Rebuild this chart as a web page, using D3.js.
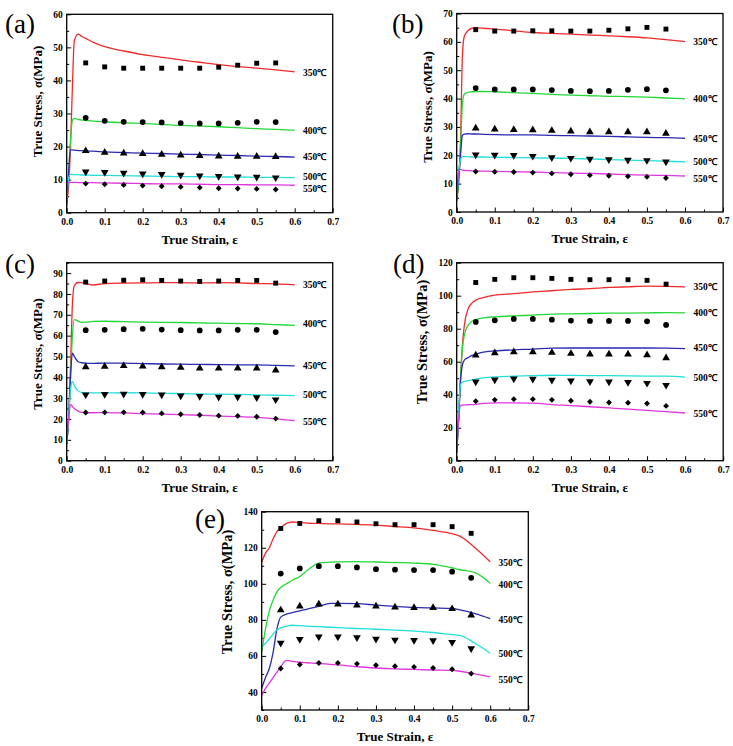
<!DOCTYPE html>
<html><head><meta charset="utf-8">
<script src="https://cdn.jsdelivr.net/npm/d3@7"></script>
<style>
body{margin:0;background:#fff;}
svg{display:block;}
text{font-family:"Liberation Serif","Times New Roman",serif;}
</style>
</head><body>
<svg id="chart" width="733" height="746"></svg>
<script>
// ---------------- DATA ----------------
const temps = ["350℃", "400℃", "450℃", "500℃", "550℃"];
const panelNames = ["(a)", "(b)", "(c)", "(d)", "(e)"];
const xTicks = [0, 0.1, 0.2, 0.3, 0.4, 0.5, 0.6, 0.7];
const expStrain = [0.05, 0.1, 0.15, 0.2, 0.25, 0.3, 0.35, 0.4, 0.45, 0.5, 0.55];
const gridABCD = [0, 0.005, 0.01, 0.015, 0.02, 0.03, 0.04, 0.05, 0.07, 0.1, 0.15, 0.2, 0.25, 0.3, 0.35, 0.4, 0.45, 0.5, 0.55, 0.6];
const gridE = [0, 0.01, 0.02, 0.03, 0.04, 0.05, 0.065, 0.08, 0.1, 0.12, 0.15, 0.18, 0.2, 0.25, 0.3, 0.35, 0.4, 0.45, 0.5, 0.52, 0.56, 0.6];

// (a)
const yTicksA = [0, 10, 20, 30, 40, 50, 60];
const curvesA = [
  [3, 8, 20, 38, 52, 54, 53.3, 52.7, 51.5, 50.2, 48.9, 47.8, 47.0, 46.2, 45.5, 44.8, 44.2, 43.7, 43.2, 42.6],
  [3, 12, 22, 28, 28.5, 28.2, 28.0, 27.9, 27.7, 27.5, 27.2, 27.0, 26.7, 26.4, 26.2, 26.0, 25.7, 25.4, 25.2, 24.9],
  [2, 12, 19, 19, 18.9, 18.8, 18.8, 18.7, 18.6, 18.4, 18.2, 18.0, 17.9, 17.7, 17.6, 17.4, 17.3, 17.1, 17.0, 16.8],
  [3, 10.5, 11.6, 11.6, 11.5, 11.5, 11.4, 11.4, 11.3, 11.3, 11.2, 11.1, 11.0, 10.9, 10.9, 10.8, 10.8, 10.7, 10.7, 10.6],
  [5, 9.2, 9.2, 9.2, 9.2, 9.1, 9.1, 9.1, 9.1, 9.0, 8.9, 8.8, 8.7, 8.7, 8.6, 8.5, 8.5, 8.4, 8.4, 8.3]
];
const pointsA = [
  [45.3, 44.1, 43.7, 43.7, 43.7, 43.7, 43.7, 44.0, 44.6, 45.2, 45.3],
  [28.7, 27.8, 27.5, 27.4, 27.3, 27.1, 27.0, 27.0, 27.2, 27.5, 27.4],
  [18.7, 18.2, 18.0, 17.8, 17.6, 17.4, 17.2, 17.1, 17.0, 17.0, 16.9],
  [12.4, 12.2, 12.0, 11.8, 11.6, 11.4, 11.2, 11.0, 10.9, 10.8, 10.6],
  [8.8, 8.6, 8.4, 8.2, 8.0, 7.8, 7.6, 7.4, 7.3, 7.2, 7.0]
];
const labelYA = [42.4, 24.8, 16.9, 10.8, 7.2];

// (b)
const yTicksB = [0, 10, 20, 30, 40, 50, 60, 70];
const curvesB = [
  [5, 10, 25, 55, 62, 64, 64.8, 64.9, 64.8, 64.5, 63.9, 63.3, 63.0, 62.7, 62.4, 62.1, 61.8, 61.4, 60.8, 60.1],
  [4, 10, 22, 38, 41.5, 42.2, 42.4, 42.5, 42.5, 42.4, 42.1, 41.8, 41.5, 41.2, 41.0, 40.8, 40.7, 40.5, 40.2, 39.9],
  [4, 12, 20, 27, 27.5, 27.6, 27.5, 27.5, 27.4, 27.3, 27.2, 27.2, 27.0, 26.9, 26.8, 26.7, 26.5, 26.3, 26.2, 26.0],
  [4, 14, 18.5, 19.5, 19.5, 19.5, 19.4, 19.4, 19.4, 19.3, 19.2, 19.1, 19.0, 18.9, 18.7, 18.5, 18.3, 18.1, 17.9, 17.7],
  [5, 14, 15, 14.8, 14.7, 14.6, 14.5, 14.5, 14.4, 14.3, 14.2, 14.1, 13.9, 13.7, 13.6, 13.4, 13.2, 13.0, 12.9, 12.7]
];
const pointsB = [
  [64.3, 63.8, 63.8, 63.9, 63.9, 63.8, 63.8, 64.1, 64.6, 65.1, 64.5],
  [43.7, 43.2, 43.2, 43.2, 43.0, 42.7, 42.6, 42.7, 43.1, 43.3, 42.9],
  [29.5, 29.2, 29.0, 28.9, 28.7, 28.5, 28.2, 28.2, 28.2, 28.2, 27.7],
  [20.2, 20.1, 20.0, 19.7, 19.2, 19.0, 18.7, 18.5, 18.3, 18.2, 17.7],
  [14.3, 14.2, 14.1, 13.9, 13.6, 13.3, 13.0, 12.8, 12.6, 12.4, 12.0]
];
const labelYB = [60.1, 39.9, 25.9, 17.6, 11.9];

// (c)
const yTicksC = [0, 10, 20, 30, 40, 50, 60, 70, 80, 90];
const curvesC = [
  [8, 20, 45, 75, 84, 85.5, 85.4, 85.0, 84.3, 85.0, 85.2, 85.3, 85.4, 85.4, 85.3, 85.4, 85.3, 85.0, 84.8, 84.4],
  [8, 20, 40, 60, 67.7, 67.0, 66.4, 66.5, 66.8, 66.9, 66.7, 66.5, 66.4, 66.3, 66.1, 66.0, 65.8, 65.7, 65.3, 64.9],
  [8, 20, 40, 51.6, 50.0, 47.5, 47.0, 46.8, 46.7, 46.8, 46.8, 46.6, 46.4, 46.3, 46.2, 46.1, 46.0, 46.0, 45.7, 45.5],
  [7, 20, 34, 38, 36, 33.5, 32.7, 32.5, 32.5, 32.5, 32.6, 32.5, 32.3, 32.2, 32.0, 31.9, 31.8, 31.6, 31.4, 31.2],
  [8, 20, 27, 26, 25, 23.8, 23.2, 23.0, 23.0, 23.1, 22.9, 22.6, 22.3, 22.1, 21.8, 21.4, 21.1, 20.8, 20.1, 19.2]
];
const pointsC = [
  [85.7, 86.2, 86.6, 86.8, 86.5, 86.2, 86.0, 86.2, 86.5, 86.5, 85.2],
  [62.6, 62.8, 63.1, 63.3, 62.9, 62.6, 62.5, 62.5, 62.8, 62.8, 61.7],
  [45.0, 45.2, 45.5, 45.3, 45.0, 44.7, 44.4, 44.4, 44.4, 44.4, 43.4],
  [31.7, 31.9, 32.0, 31.9, 31.6, 31.2, 30.9, 30.6, 30.6, 30.3, 29.3],
  [23.1, 23.2, 23.2, 23.1, 22.7, 22.3, 21.9, 21.6, 21.5, 21.1, 20.2]
];
const labelYC = [84.6, 65.7, 45.5, 31.5, 18.7];

// (d)
const yTicksD = [0, 20, 40, 60, 80, 100, 120];
const curvesD = [
  [5, 25, 50, 70, 82, 92, 95.5, 97.3, 98.8, 100.3, 101.2, 102.3, 103.0, 103.8, 104.3, 105.0, 105.4, 105.8, 105.7, 105.4],
  [5, 25, 50, 68, 76, 82, 84.5, 85.5, 86.5, 87.2, 87.8, 88.2, 88.8, 89.0, 89.2, 89.4, 89.5, 89.6, 89.7, 89.6],
  [5, 25, 48, 58, 61, 62.5, 63.8, 64.5, 65.8, 66.5, 67.2, 67.6, 68.2, 68.3, 68.3, 68.3, 68.3, 68.3, 68.2, 67.9],
  [5, 30, 46, 47.5, 48, 48.5, 49.0, 49.5, 50.2, 50.8, 51.2, 51.5, 51.8, 51.7, 51.6, 51.5, 51.4, 51.3, 51.3, 50.7],
  [5, 25, 33.5, 33.7, 33.8, 33.9, 34.0, 34.2, 34.7, 35.0, 35.0, 34.9, 34.0, 33.4, 32.7, 32.0, 31.3, 30.5, 29.7, 28.9]
];
const pointsD = [
  [108.0, 109.9, 110.9, 110.9, 110.5, 109.9, 109.7, 109.7, 109.7, 109.3, 107.0],
  [84.1, 85.1, 85.9, 85.9, 85.5, 84.9, 84.7, 84.7, 84.7, 84.5, 82.3],
  [63.9, 65.3, 65.9, 65.9, 65.5, 64.9, 64.5, 64.5, 64.5, 64.1, 62.2],
  [47.8, 49.1, 49.7, 49.5, 48.9, 48.4, 48.0, 47.8, 47.6, 47.0, 45.8],
  [36.1, 36.9, 37.3, 37.3, 36.9, 36.3, 35.7, 35.3, 35.1, 34.7, 33.2]
];
const labelYD = [105.4, 90.0, 68.3, 50.1, 28.4];

// (e)
const yTicksE = [40, 60, 80, 100, 120, 140];
const curvesE = [
  [112, 117, 120, 125, 129, 131, 133.5, 134.3, 134.0, 133.7, 133.5, 133.3, 133.2, 133.0, 132.5, 131.8, 131.0, 129.6, 127.8, 126.5, 120.0, 112.2],
  [62, 75, 85, 91, 95.5, 98, 100, 102, 104, 107.5, 111.5, 112.0, 112.2, 112.3, 112.1, 111.8, 111.5, 110.8, 108.8, 107.8, 106.2, 100.3],
  [42, 48, 53, 62, 75, 81.5, 83.2, 84, 85, 86, 87.5, 89.2, 89.2, 89.0, 88.2, 87.5, 86.9, 86.6, 86.3, 85.5, 83.5, 80.7],
  [65, 67, 69.5, 72, 74.5, 75.5, 76.5, 77, 76.8, 76.5, 76.2, 75.9, 75.7, 75.2, 74.8, 74.3, 73.8, 73.0, 71.8, 71.4, 67.0, 61.5],
  [38, 42, 45, 48, 51, 54, 57.5, 57.0, 56.5, 56.2, 55.8, 55.3, 55.0, 54.0, 53.3, 52.8, 52.5, 52.2, 52.0, 51.5, 50.0, 48.4]
];
const pointsE = [
  [130.7, 133.5, 135.0, 135.0, 134.3, 133.3, 132.8, 132.8, 132.8, 131.7, 128.0],
  [105.7, 108.5, 109.8, 109.8, 109.1, 108.1, 107.8, 107.6, 107.6, 106.7, 103.3],
  [85.4, 87.6, 88.7, 88.7, 88.1, 87.6, 87.0, 86.7, 86.7, 86.1, 82.6],
  [67.2, 69.3, 70.6, 70.6, 70.2, 69.4, 68.9, 68.7, 68.5, 67.6, 64.1],
  [53.0, 55.2, 56.1, 56.1, 55.6, 54.8, 54.3, 53.9, 53.3, 52.6, 50.2]
];
const labelYE = [111.7, 99.6, 80.2, 61.1, 46.9];

// ---------------- STYLE / LAYOUT ----------------
const colors = ["#f02a2a", "#22d835", "#2a2ab5", "#22dede", "#e035e0"];
const symbols = [d3.symbolSquare, d3.symbolCircle, d3.symbolTriangle, d3.symbolTriangle, d3.symbolDiamond2];
const symSize = [24, 26, 26, 26, 22];
const symRot = [0, 0, 0, 180, 0];

const panels = [
  {name: panelNames[0], x: 66.7, y: 14.3, w: 266, h: 198.4, yDomain: [0, 60], yTicks: yTicksA, minorStep: 5, grid: gridABCD, curves: curvesA, points: pointsA, labelY: labelYA, lx: 5, ly: 33, tOff: 29, tFs: 13, tCy: 101.5},
  {name: panelNames[1], x: 456.7, y: 13.5, w: 266.3, h: 198.5, yDomain: [0, 70], yTicks: yTicksB, minorStep: 5, grid: gridABCD, curves: curvesB, points: pointsB, labelY: labelYB, lx: 392, ly: 33, tOff: 29.5, tFs: 13, tCy: 107},
  {name: panelNames[2], x: 66.7, y: 262.7, w: 266, h: 198, yDomain: [0, 95], yTicks: yTicksC, minorStep: 5, grid: gridABCD, curves: curvesC, points: pointsC, labelY: labelYC, lx: 5, ly: 273, tOff: 29.4, tFs: 13, tCy: 354},
  {name: panelNames[3], x: 456.7, y: 262.7, w: 266.5, h: 198, yDomain: [0, 120], yTicks: yTicksD, minorStep: 10, grid: gridABCD, curves: curvesD, points: pointsD, labelY: labelYD, lx: 393, ly: 273, tOff: 35, tFs: 14.5, tCy: 342},
  {name: panelNames[4], x: 261.7, y: 511.7, w: 266.6, h: 198.3, yDomain: [30, 140], yTicks: yTicksE, minorStep: 10, grid: gridE, curves: curvesE, points: pointsE, labelY: labelYE, lx: 195, ly: 528, tOff: 35, tFs: 14.5, tCy: 592}
];

const svg = d3.select("#chart");
const FONT = '"Liberation Serif","Times New Roman",serif';

function styleAxis(g) {
  g.select(".domain").remove();
  g.attr("font-family", FONT).attr("font-size", 9.5).attr("font-weight", "bold");
  g.selectAll(".tick line").attr("stroke", "#000").attr("stroke-width", 1);
  g.selectAll(".tick text").attr("fill", "#000");
}

panels.forEach(p => {
  const g = svg.append("g").attr("transform", `translate(${p.x},${p.y})`);
  const x = d3.scaleLinear().domain([0, 0.7]).range([0, p.w]);
  const y = d3.scaleLinear().domain(p.yDomain).range([p.h, 0]);

  // minor ticks
  const xMinor = d3.range(0.05, 0.7, 0.1);
  const yMinor = d3.range(p.yDomain[0], p.yDomain[1] + 0.001, p.minorStep).filter(v => !p.yTicks.includes(v));

  g.append("g").attr("transform", `translate(0,${p.h})`)
    .call(d3.axisBottom(x).tickValues(xMinor).tickSize(-2.5).tickFormat(""))
    .call(styleAxis);
  g.append("g")
    .call(d3.axisLeft(y).tickValues(yMinor).tickSize(-2.5).tickFormat(""))
    .call(styleAxis);
  g.append("g").attr("transform", `translate(0,${p.h})`)
    .call(d3.axisBottom(x).tickValues(xTicks).tickSize(-4.5).tickPadding(5.5).tickFormat(d3.format(".1f")))
    .call(styleAxis);
  g.append("g")
    .call(d3.axisLeft(y).tickValues(p.yTicks).tickSize(-4.5).tickPadding(4).tickFormat(d3.format("d")))
    .call(styleAxis);

  // clip
  const clipId = "clip" + p.name.replace(/\W/g, "");
  g.append("clipPath").attr("id", clipId).append("rect").attr("width", p.w).attr("height", p.h);

  const line = d3.line().x(d => x(d[0])).y(d => y(d[1])).curve(d3.curveMonotoneX);
  p.curves.forEach((c, i) => {
    g.append("path")
      .datum(p.grid.map((s, j) => [s, c[j]]))
      .attr("clip-path", `url(#${clipId})`)
      .attr("d", line)
      .attr("fill", "none")
      .attr("stroke", colors[i])
      .attr("stroke-width", 1.3);
  });

  p.points.forEach((pts, i) => {
    g.append("g").selectAll("path")
      .data(pts.map((v, j) => [expStrain[j], v]))
      .join("path")
      .attr("transform", d => `translate(${x(d[0])},${y(d[1])}) rotate(${symRot[i]})`)
      .attr("d", d3.symbol().type(symbols[i]).size(symSize[i]))
      .attr("fill", "#000");
  });

  // frame
  g.append("rect").attr("width", p.w).attr("height", p.h)
    .attr("fill", "none").attr("stroke", "#000").attr("stroke-width", 1.3);

  // series labels
  temps.forEach((t, i) => {
    g.append("text")
      .attr("x", x(0.622)).attr("y", y(p.labelY[i])).attr("dy", "0.35em")
      .attr("font-size", 9.5).attr("font-weight", "bold").attr("fill", "#000")
      .text(t);
  });

  // x title
  g.append("text")
    .attr("x", p.w / 2).attr("y", p.h + 31)
    .attr("text-anchor", "middle").attr("font-size", 13).attr("font-weight", "bold")
    .text("True Strain, ε");

  // y title
  svg.append("text")
    .attr("transform", `translate(${p.x - p.tOff},${p.tCy}) rotate(-90)`)
    .attr("text-anchor", "middle").attr("dy", "0.35em")
    .attr("font-size", p.tFs).attr("font-weight", "bold")
    .text("True Stress, σ(MPa)");

  // panel letter
  svg.append("text")
    .attr("x", p.lx).attr("y", p.ly)
    .attr("font-size", 27)
    .text(p.name);
});
</script>
</body></html>
